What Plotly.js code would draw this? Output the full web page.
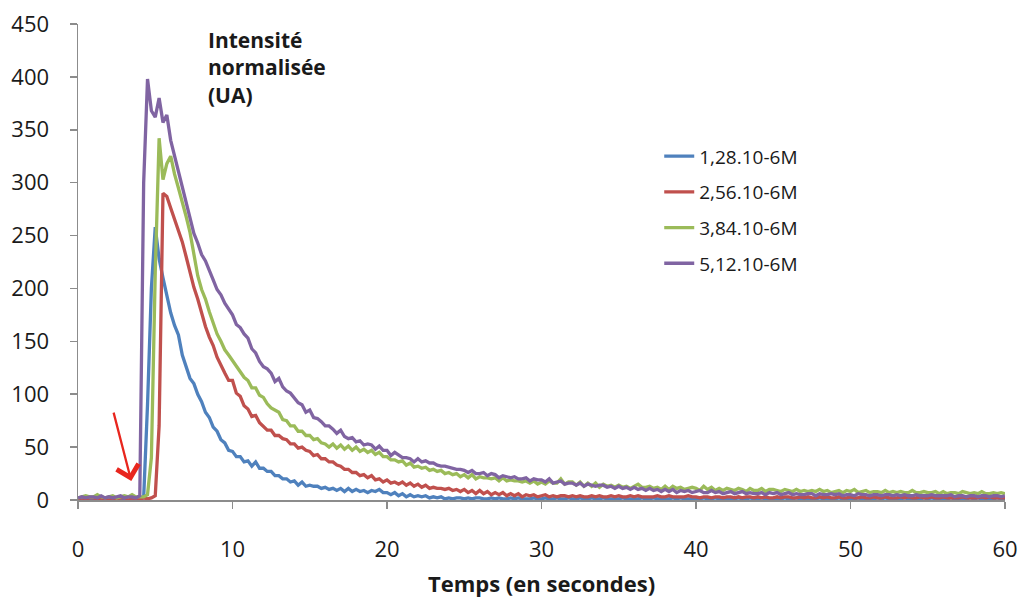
<!DOCTYPE html>
<html>
<head>
<meta charset="utf-8">
<script src="https://cdn.plot.ly/plotly-3.0.1.min.js"></script>
<style>html,body{margin:0;padding:0;background:#fff;}#chart{width:1021px;height:598px;}</style>
</head>
<body>
<div id="chart"></div>
<script>
// Sampling step of the recorded signal (seconds)
const timeStep = 0.25;
const seriesNames = ["1,28.10-6M", "2,56.10-6M", "3,84.10-6M", "5,12.10-6M"];
const seriesColors = ["#4F81BD", "#C0504D", "#9BBB59", "#8064A2"];
const xTicks = [0, 10, 20, 30, 40, 50, 60];
const yTicks = [0, 50, 100, 150, 200, 250, 300, 350, 400, 450];

// Values, one row per second (t, t+.25, t+.5, t+.75)
const blue = [
  2,1,2,1, 1,2,1,2, 2,1,2,1, 1,2,1,2, 1,2,90,200,
  258,228,210,192, 177,165,156,137, 127,115,110,100, 93,83,78,69, 65,57,54,47,
  46,41,41,36, 37,32,36,30, 30,27,27,23, 23,20,20,17, 18,14,17,13,
  14,13,13,11, 12,10,11,9, 11,8,11,8, 10,8,9,7, 9,8,10,7,
  7,5,7,4, 6,3,5,3, 4,3,4,2, 3,2,3,1, 2,1,2,2,
  1,2,1,2, 2,1,1,2, 1,2,1,1, 2,1,2,1, 1,1,2,1,
  1,2,1,1, 2,1,1,2, 1,1,2,1, 1,2,1,1, 2,1,1,1,
  1,2,1,1, 1,1,2,1, 1,2,1,1, 1,1,2,1, 2,1,1,1,
  1,1,2,1, 1,2,1,1, 1,1,1,2, 1,1,2,1, 1,2,1,1,
  1,1,1,2, 1,1,2,1, 1,1,1,1, 2,1,1,1, 1,2,1,1,
  1,1,2,1, 1,1,1,2, 1,2,1,1, 1,1,2,1, 1,1,1,2,
  1,2,1,1, 1,1,2,1, 1,1,1,2, 1,2,1,1, 1,1,2,1,
  1
];
const red = [
  1,2,1,2, 2,1,2,1, 1,2,1,2, 2,1,2,1, 1,2,1,2,
  4,70,290,287, 276,266,256,244, 230,215,201,190, 176,164,154,146, 135,127,120,113,
  113,101,98,89, 86,79,80,73, 70,66,66,61, 61,58,57,53, 53,49,50,47,
  46,42,43,39, 39,36,36,33, 32,29,29,26, 26,23,24,21, 23,19,20,17,
  19,16,17,15, 17,14,16,13, 15,12,14,11, 12,11,11,10, 11,9,10,8,
  10,7,9,6, 9,6,8,5, 7,5,7,4, 6,4,6,3, 5,4,5,3,
  4,5,3,4, 3,4,4,3, 4,3,4,3, 3,4,3,4, 3,3,4,3,
  4,3,3,4, 3,4,3,3, 3,3,4,3, 3,4,3,3, 3,3,4,3,
  3,2,3,3, 2,3,3,2, 3,3,2,3, 2,3,3,2, 3,2,3,2,
  2,3,2,3, 3,2,2,3, 2,3,2,2, 3,2,3,2, 2,3,2,2,
  3,2,2,3, 2,2,3,2, 2,3,2,2, 2,3,2,3, 2,2,3,2,
  2,3,2,2, 3,2,2,2, 2,3,2,2, 2,2,3,2, 3,2,2,2,
  2
];
const green = [
  2,3,4,3, 3,5,3,2, 3,4,2,3, 4,3,5,3, 3,3,5,40,
  215,342,303,318, 325,308,295,282, 268,253,232,212, 199,190,178,168, 157,150,142,137,
  132,126,121,116, 113,106,106,99, 97,91,87,85, 83,76,75,70, 70,65,65,61,
  61,57,58,54, 53,50,53,49, 52,48,51,47, 50,46,48,45, 47,43,45,41,
  41,38,38,36, 37,33,35,31, 32,30,31,28, 29,27,28,25, 26,24,25,22,
  24,21,24,20, 22,21,21,20, 21,18,21,18, 19,18,18,17, 18,16,18,15,
  17,15,18,16, 16,20,15,17, 17,14,17,13, 16,13,16,12, 15,13,14,12,
  14,12,13,11, 13,15,12,12, 13,11,12,10, 13,10,13,11, 12,10,11,12,
  11,9,13,10, 12,9,11,9, 11,10,9,11, 10,8,11,9, 9,11,8,10,
  10,9,8,10, 9,8,10,8, 9,8,9,8, 10,8,9,7, 8,9,7,9,
  8,10,7,8, 9,7,8,8, 7,9,7,8, 7,8,7,7, 9,7,7,8,
  7,7,8,6, 8,6,7,7, 6,8,7,6, 7,6,8,6, 6,7,6,7,
  6
];
const purple = [
  2,3,2,3, 3,2,4,2, 3,2,3,4, 2,3,3,2, 4,300,398,368,
  362,380,357,364, 340,325,309,296, 282,267,252,243, 232,226,216,208, 199,194,186,180,
  175,166,163,157, 153,143,139,131, 126,124,120,112, 115,107,103,101, 96,92,90,83,
  85,78,77,74, 70,70,67,63, 66,60,58,59, 55,56,52,53, 52,48,51,47,
  47,42,45,42, 40,40,39,36, 39,36,37,35, 35,33,32,32, 31,30,29,29,
  28,26,28,25, 25,26,23,25, 24,21,23,22, 21,22,20,20, 21,18,20,19,
  19,17,20,16, 17,18,15,16, 16,14,16,13, 15,14,13,14, 14,12,13,11,
  13,11,12,10, 12,10,11,9, 11,9,10,8, 10,8,10,7, 9,8,9,7,
  8,9,7,7, 9,7,8,6, 7,8,6,7, 8,6,7,6, 6,7,5,7,
  6,7,5,6, 7,5,6,5, 5,6,6,4, 6,5,5,6, 5,6,4,5,
  5,4,6,5, 5,4,5,5, 4,5,5,4, 5,4,5,4, 4,5,4,4,
  4,5,4,4, 4,4,5,3, 4,4,3,4, 4,3,4,4, 3,4,4,3,
  4
];
const allSeries = [blue, red, green, purple];

const time = blue.map((_, i) => i * timeStep);

const FONT = '"Open Sans", "Liberation Sans", sans-serif';

const traces = allSeries.map((vals, k) => ({
  x: time,
  y: vals,
  type: 'scatter',
  mode: 'lines',
  name: seriesNames[k],
  legendgroup: 'g' + k,
  line: {color: seriesColors[k], width: 3.3},
  hoverinfo: 'x+y+name'
}));

const layout = {
  width: 1021,
  height: 598,
  margin: {l: 78, r: 16, t: 24, b: 98},
  paper_bgcolor: '#ffffff',
  plot_bgcolor: '#ffffff',
  font: {family: FONT, size: 21, color: '#1a1a1a'},
  showlegend: true,
  legend: {
    x: 0.627, y: 0.762, xanchor: 'left', yanchor: 'top',
    bgcolor: 'rgba(0,0,0,0)', borderwidth: 0,
    font: {family: FONT, size: 19, color: '#1a1a1a'},
    traceorder: 'grouped', tracegroupgap: 8
  },
  xaxis: {
    range: [0, 60],
    tickvals: xTicks,
    ticktext: xTicks.map(String),
    showgrid: false, zeroline: false,
    showline: true, linecolor: '#8c8c8c', linewidth: 1.5,
    ticks: 'outside', ticklen: 7, tickcolor: '#8c8c8c', tickwidth: 1.5,
    ticklabelstandoff: 22,
    tickfont: {family: FONT, size: 22, color: '#1a1a1a'},
    title: {text: '<b>Temps (en secondes)</b>', font: {family: FONT, size: 22, color: '#1a1a1a'}, standoff: 14}
  },
  yaxis: {
    range: [0, 450],
    tickvals: yTicks,
    ticktext: yTicks.map(String),
    showgrid: false, zeroline: false,
    showline: true, linecolor: '#8c8c8c', linewidth: 1.5,
    ticks: 'outside', ticklen: 7, tickcolor: '#8c8c8c', tickwidth: 1.5,
    ticklabelstandoff: 16,
    tickfont: {family: FONT, size: 22, color: '#1a1a1a'}
  },
  annotations: [
    {
      xref: 'paper', yref: 'paper', x: 0.138, y: 1.0,
      xanchor: 'left', yanchor: 'top', align: 'left', showarrow: false,
      text: '<b>Intensité<br>normalisée<br>(UA)</b>',
      font: {family: FONT, size: 21, color: '#1a1a1a'}
    },
    {
      xref: 'x', yref: 'y', axref: 'x', ayref: 'y',
      x: 3.45, y: 18, ax: 2.28, ay: 84,
      showarrow: true, arrowhead: 4, arrowsize: 1.9, arrowwidth: 2.3,
      arrowcolor: '#E8261E', text: ''
    }
  ]
};

Plotly.newPlot('chart', traces, layout, {displayModeBar: false, staticPlot: true});
</script>
</body>
</html>
